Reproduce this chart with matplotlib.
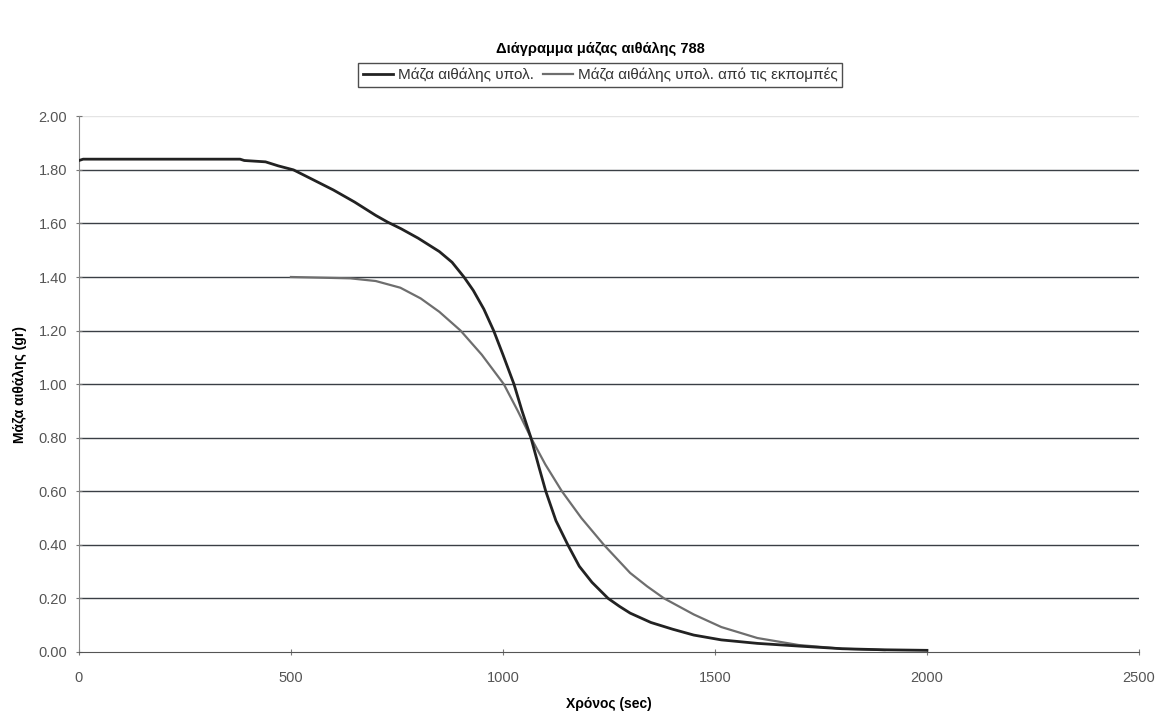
import numpy as np
import matplotlib.pyplot as plt

plt.rcParams['font.family'] = ['Liberation Sans', 'DejaVu Sans']

# values
t_calc = [0, 10, 380, 390, 440, 470, 506, 550, 600, 650, 700, 728, 760, 800,
          850, 880, 908, 930, 955, 978, 1000, 1026, 1045, 1066, 1085, 1101,
          1125, 1153, 1180, 1210, 1248, 1275, 1300, 1349, 1400, 1450, 1515,
          1600, 1697, 1800, 1900, 2000]
m_calc = [1.835, 1.84, 1.84, 1.835, 1.83, 1.815, 1.80, 1.765, 1.725, 1.68,
          1.63, 1.605, 1.58, 1.545, 1.495, 1.455, 1.40, 1.35, 1.28, 1.20,
          1.11, 1.00, 0.90, 0.80, 0.69, 0.60, 0.49, 0.40, 0.32, 0.26, 0.20,
          0.17, 0.145, 0.11, 0.085, 0.063, 0.045, 0.032, 0.022, 0.012, 0.008,
          0.006]

t_emis = [500, 640, 700, 758, 806, 850, 900, 950, 1002, 1035, 1066, 1100,
          1139, 1185, 1238, 1300, 1340, 1380, 1450, 1515, 1600, 1697, 1800,
          1900]
m_emis = [1.40, 1.395, 1.385, 1.36, 1.32, 1.27, 1.20, 1.11, 1.00, 0.90, 0.80,
          0.70, 0.60, 0.50, 0.40, 0.295, 0.245, 0.20, 0.14, 0.093, 0.052,
          0.026, 0.012, 0.007]

labels = ['Μάζα αιθάλης υπολ.', 'Μάζα αιθάλης υπολ. από τις εκπομπές']
yticks = np.arange(0, 2.01, 0.2)
xticks = [0, 500, 1000, 1500, 2000, 2500]

fig = plt.figure(figsize=(11.61, 7.18), dpi=100)
ax = fig.add_axes([0.068, 0.092, 0.913, 0.746])

# gridlines
for y in yticks[1:-1]:
    ax.axhline(y, color='#3a3f45', lw=1.0, zorder=1)
ax.axhline(2.0, color='#e4e4e4', lw=1.0, zorder=1)

l1, = ax.plot(t_calc, m_calc, color='#222222', lw=2.0, zorder=3)
l2, = ax.plot(t_emis, m_emis, color='#6e6e6e', lw=1.6, zorder=2)

ax.set_xlim(0, 2500)
ax.set_ylim(0, 2.0)
ax.set_xticks(xticks)
ax.set_yticks(yticks)
ax.set_yticklabels([f'{v:.2f}' for v in yticks])
ax.tick_params(axis='both', direction='inout', length=5, width=0.8,
               colors='#777777', labelcolor='#555555', labelsize=10.5)
ax.tick_params(axis='x', pad=11)
ax.tick_params(axis='y', pad=6)

for s in ['top', 'right']:
    ax.spines[s].set_visible(False)
ax.spines['left'].set_color('#888888')
ax.spines['bottom'].set_color('#555555')

ax.set_xlabel('Χρόνος (sec)', fontsize=10, fontweight='bold', labelpad=9)
ax.set_ylabel('Μάζα αιθάλης (gr)', fontsize=10, fontweight='bold', labelpad=8)

fig.text(0.517, 0.932, 'Διάγραμμα μάζας αιθάλης 788', ha='center',
         va='center', fontsize=10.5, fontweight='bold')

leg = fig.legend([l1, l2], labels, loc='center', bbox_to_anchor=(0.517, 0.896),
                 ncol=2, fontsize=11, frameon=True, fancybox=False,
                 handlelength=2.0, handletextpad=0.3, columnspacing=0.6,
                 borderpad=0.3, labelcolor='#333333')
leg.get_frame().set_edgecolor('#222222')
leg.get_frame().set_linewidth(1.0)

fig.savefig('out.png', dpi=100)
